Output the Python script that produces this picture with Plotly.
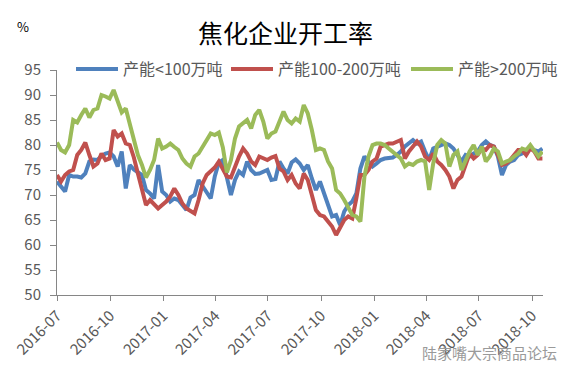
import pandas as pd
import plotly.graph_objects as go

start_date = "2016-07-01"
n_weeks = 121
dates = pd.date_range(start_date, periods=n_weeks, freq="7D")

series_names = ["产能<100万吨", "产能100-200万吨", "产能>200万吨"]

small = [72.7, 71.7, 70.7, 74, 73.7, 73.7, 73.5, 74.3, 76.7, 77.1,
         77, 77.8, 78.3, 78.5, 77.7, 75.7, 78.7, 71.3, 76, 75.1,
         74.5, 74, 71, 70.3, 69.3, 76, 70.7, 70, 68.7, 69.3,
         69, 68, 67, 69.5, 70, 73, 71.7, 70.5, 69.3, 73.7,
         76.5, 77, 73, 70, 73, 74.7, 74, 76.7, 75, 74.2,
         74.3, 74.7, 75, 73, 73.2, 76.7, 75.3, 74.3, 76.5, 77.1,
         76.3, 75, 76, 73.3, 71, 72.7, 70.3, 68, 65.7, 66,
         64, 66.7, 68, 68.7, 70.3, 75.3, 77.7, 76.7, 75.7, 76.3,
         77, 77.3, 77.3, 77.5, 78, 78.7, 79.7, 80.3, 81, 80.3,
         80.7, 78.7, 77, 79.3, 79.7, 80, 80.3, 80, 79.3, 78,
         76.7, 78, 77.7, 78.3, 78.7, 80, 80.7, 80, 79.7, 77.7,
         74, 76, 76.7, 77, 78, 78.3, 78.7, 79.3, 79, 78.7, 79.3]

medium = [74, 72.7, 74, 74.7, 75, 78, 79, 80.5, 78, 75.7,
          76.3, 78.3, 77, 77.3, 83, 81.7, 82.3, 80.3, 80, 77.5,
          74.3, 71, 68, 69, 68, 67.3, 68, 68.7, 69.7, 71.3,
          70, 68.3, 67.3, 66.7, 66.3, 69, 72.3, 74, 74.7, 75.5,
          76.7, 75, 73.7, 73.5, 75.7, 77.7, 79.3, 78.3, 76.7, 76,
          77.7, 77.3, 77, 77.5, 77.8, 75.3, 74.7, 73, 74, 72.3,
          71.3, 74.3, 73, 70, 67, 66, 65.7, 64.7, 63.7, 62,
          63.7, 65, 65.7, 65.3, 69.3, 74, 74, 75, 76.7, 77.3,
          79.7, 80, 80.3, 80.3, 80.7, 81, 77.3, 78.7, 79.7, 80.7,
          79.7, 77.7, 77, 78.3, 76.7, 76, 75, 73.7, 71.3, 73,
          73.7, 76, 78.3, 77.3, 78, 79.3, 79, 80, 79.7, 78,
          76, 76.3, 77, 78, 79, 79, 78, 79.3, 78.7, 77.3, 77.3]

large = [80.5, 79, 78.5, 80, 85, 84.5, 86, 87.3, 85.5, 87,
         87.3, 90, 89.7, 89.3, 91, 89, 86.5, 87.3, 84, 81,
         78, 76, 73.5, 75, 77, 81.3, 79.3, 79.7, 80.3, 79.6,
         79, 77.3, 76.3, 75.7, 77.7, 78.3, 79.7, 80.7, 82.3, 82,
         82.5, 79.5, 74.5, 77, 81.3, 83.7, 84.3, 85, 83.3, 86,
         87, 84.7, 81.3, 82.3, 82.7, 85, 86.7, 85, 84.3, 85.3,
         84.7, 88, 86.3, 83, 79, 79.3, 79, 76.7, 75.3, 71,
         70.3, 69, 67.3, 66, 65.7, 64.7, 73.7, 77.7, 80, 80.3,
         80.3, 80, 79.3, 78.7, 78, 77.3, 75.7, 76.3, 76, 76.7,
         77, 76.7, 71, 76.3, 80, 81, 80.3, 75.7, 78, 78.7,
         75, 77, 78.7, 80, 78, 79.7, 76.7, 77.7, 79.3, 78.7,
         76.3, 76.7, 77, 77.7, 78.3, 79.3, 79, 80, 79, 77.7, 78.7]

tick_dates = ["2016-07-01", "2016-10-01", "2017-01-01", "2017-04-01", "2017-07-01",
              "2017-10-01", "2018-01-01", "2018-04-01", "2018-07-01", "2018-10-01"]
tick_labels = ["2016-07", "2016-10", "2017-01", "2017-04", "2017-07",
               "2017-10", "2018-01", "2018-04", "2018-07", "2018-10"]

colors = ["#4F81BD", "#C0504D", "#9BBB59"]
legend_ids = ["legend", "legend2", "legend3"]
legend_x_px = [71, 226, 406]
font_family = "Noto Sans CJK SC, Noto Sans, sans-serif"
W, H = 571, 372

fig = go.Figure()
for name, vals, c, lg in zip(series_names, [small, medium, large], colors, legend_ids):
    fig.add_trace(go.Scatter(x=dates, y=vals, mode="lines", name=name, legend=lg,
                             line=dict(color=c, width=4)))

legend_common = dict(orientation="h", xref="container", yref="container",
                     xanchor="left", yanchor="middle", y=1 - 69 / H,
                     bgcolor="rgba(255,255,255,0)", itemwidth=42,
                     font=dict(size=16, color="#595959", family=font_family))

fig.update_layout(
    width=W, height=H,
    margin=dict(l=57, r=28, t=70, b=77, autoexpand=False),
    paper_bgcolor="white", plot_bgcolor="white",
    font=dict(family=font_family, color="#595959", size=15),
    title=dict(text="焦化企业开工率", x=0.5, xref="container", xanchor="center",
               y=1 - 34 / H, yref="container", yanchor="middle",
               font=dict(size=25, color="#000000")),
    legend=dict(x=legend_x_px[0] / W, **legend_common),
    legend2=dict(x=legend_x_px[1] / W, **legend_common),
    legend3=dict(x=legend_x_px[2] / W, **legend_common),
    showlegend=True,
)
fig.update_xaxes(
    range=["2016-07-01", "2018-10-20"], tickvals=tick_dates, ticktext=tick_labels,
    tickangle=-45, showline=True, linecolor="#868686", linewidth=1, automargin=False,
    ticks="outside", ticklen=5, tickcolor="#868686", showgrid=False, zeroline=False,
    tickfont=dict(size=15, color="#595959"),
)
fig.update_yaxes(
    range=[50, 95], dtick=5, tick0=50, showline=True, linecolor="#868686", linewidth=1,
    automargin=False, ticklabelstandoff=6,
    ticks="outside", ticklen=6, tickcolor="#868686", showgrid=False, zeroline=False,
    tickfont=dict(size=15, color="#595959"),
)
fig.add_annotation(text="%", xref="paper", yref="paper", x=(23 - 57) / 486, y=1 + (70 - 26) / 225,
                   xanchor="center", yanchor="middle", showarrow=False,
                   font=dict(size=13, color="#000000"))
fig.add_annotation(text="陆家嘴大宗商品论坛", xref="paper", yref="paper",
                   x=(559 - 57) / 486, y=-(352 - 295) / 225, xanchor="right", yanchor="middle",
                   showarrow=False, font=dict(size=15, color="#9a9a9a"))

fig.write_html("out.html", config={"displayModeBar": False},
               post_script="document.body.style.margin='0';")
